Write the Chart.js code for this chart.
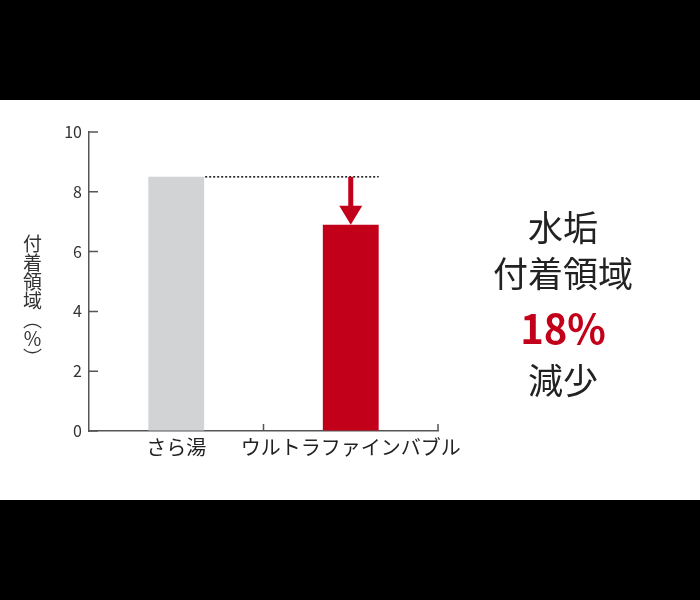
<!DOCTYPE html>
<html lang="ja">
<head>
    <meta charset="UTF-8">
    <title>水垢付着領域</title>
    <style>
        body { margin: 0; background: #000; width: 700px; height: 600px; overflow: hidden; font-family: "Noto Sans CJK JP", sans-serif; }
        .panel { position: absolute; left: 0; top: 100px; width: 700px; height: 400px; background: #fff; }
        #chart { position: absolute; left: 0; top: 0; }
        .ytitle { position: absolute; left: 20px; top: 134px; writing-mode: vertical-rl; font-size: 19px; color: #333; line-height: 24px; }
        .note { position: absolute; left: 463px; width: 200px; text-align: center; color: #222; font-size: 35px; line-height: 40px; }
        .note.big { color: #c3001a; font-weight: bold; font-size: 40px; }
    </style>
</head>
<body>
    <div class="panel">
        <canvas id="chart" width="700" height="400"></canvas>
        <div class="ytitle">付着領域（％）</div>
        <div class="note" style="top:106px">水垢</div>
        <div class="note" style="top:152px">付着領域</div>
        <div class="note big" style="top:207px">18%</div>
        <div class="note" style="top:259px">減少</div>
    </div>
    <script src="https://cdn.jsdelivr.net/npm/chart.js"></script>
    <script>
        // data
        var categories = ['さら湯', 'ウルトラファインバブル'];
        var values = [8.5, 6.9];
        var barColors = ['#d1d3d4', '#c3001a'];
        var yTicks = [0, 2, 4, 6, 8, 10];

        var axisColor = '#555';

        // short tick marks pointing into the plot, as in the original
        var innerTicks = {
            id: 'innerTicks',
            afterDraw: function(chart) {
                var ctx = chart.ctx;
                var area = chart.chartArea;
                var x = chart.scales.x, y = chart.scales.y;
                ctx.save();
                ctx.strokeStyle = axisColor;
                ctx.lineWidth = 1.5;
                ctx.beginPath();
                y.ticks.forEach(function(t) {
                    var py = y.getPixelForValue(t.value);
                    ctx.moveTo(area.left, py);
                    ctx.lineTo(area.left + 9, py);
                });
                var mid = (x.getPixelForValue(0) + x.getPixelForValue(1)) / 2;
                [mid, area.right].forEach(function(px) {
                    ctx.moveTo(px, area.bottom);
                    ctx.lineTo(px, area.bottom - 7);
                });
                ctx.stroke();
                ctx.restore();
            }
        };

        // dotted reference line and the down arrow
        var reduction = {
            id: 'reduction',
            afterDatasetsDraw: function(chart) {
                var ctx = chart.ctx;
                var bars = chart.getDatasetMeta(0).data;
                var a = bars[0], b = bars[1];
                ctx.save();
                ctx.strokeStyle = '#111';
                ctx.lineWidth = 1.5;
                ctx.setLineDash([2, 2]);
                ctx.beginPath();
                ctx.moveTo(a.x + a.width / 2 + 1, a.y);
                ctx.lineTo(b.x + b.width / 2, a.y);
                ctx.stroke();
                ctx.setLineDash([]);

                var headH = 19, headW = 23, shaft = 5;
                ctx.fillStyle = barColors[1];
                ctx.fillRect(b.x - shaft / 2, a.y, shaft, b.y - a.y - headH + 1);
                ctx.beginPath();
                ctx.moveTo(b.x - headW / 2, b.y - headH);
                ctx.lineTo(b.x + headW / 2, b.y - headH);
                ctx.lineTo(b.x, b.y);
                ctx.closePath();
                ctx.fill();
                ctx.restore();
            }
        };

        new Chart(document.getElementById('chart'), {
            type: 'bar',
            data: {
                labels: categories,
                datasets: [{
                    data: values,
                    backgroundColor: barColors,
                    borderWidth: 0,
                    barPercentage: 0.32,
                    categoryPercentage: 1
                }]
            },
            options: {
                responsive: false,
                animation: false,
                layout: { padding: { left: 0, right: 262, top: 32, bottom: 19 } },
                plugins: { legend: { display: false }, tooltip: { enabled: false } },
                scales: {
                    x: {
                        grid: { display: true, drawOnChartArea: false, drawTicks: false },
                        border: { color: axisColor, width: 1.5 },
                        ticks: {
                            color: '#222',
                            font: { family: 'Noto Sans CJK JP', size: 20 },
                            padding: 4,
                            autoSkip: false,
                            maxRotation: 0,
                            minRotation: 0
                        },
                        afterFit: function(s) { s.height = 50; }
                    },
                    y: {
                        min: 0,
                        max: 10,
                        afterBuildTicks: function(s) { s.ticks = yTicks.map(function(v) { return { value: v }; }); },
                        grid: { display: true, drawOnChartArea: false, drawTicks: false },
                        border: { color: axisColor, width: 1.5 },
                        ticks: { color: '#333', font: { family: 'Noto Sans CJK JP', size: 16 }, padding: 7 },
                        afterFit: function(s) { s.width = 89; }
                    }
                }
            },
            plugins: [innerTicks, reduction]
        });
    </script>
</body>
</html>
